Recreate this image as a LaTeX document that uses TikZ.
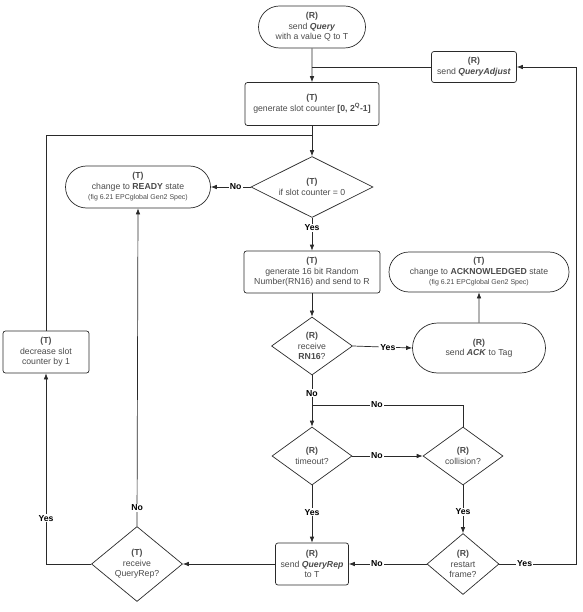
\documentclass[tikz,border=0pt]{standalone}
\usepackage{fontspec}
\setmainfont{Liberation Sans}
\usepackage{tikz}
\usetikzlibrary{arrows.meta,shapes.geometric,shapes.misc}
\tikzset{>={Latex[length=6pt,width=4.6pt]}}
\definecolor{txtgray}{HTML}{4A4A4A}
\definecolor{linegray}{HTML}{2A2A2A}

\begin{document}
\begin{tikzpicture}[x=1pt, y=-1pt, font=\fontsize{8.7}{10.5}\selectfont, align=center, line width=0.7pt, draw=linegray]
    \tikzset{%
      proc/.style={draw, rounded corners=2.5pt, inner sep=1pt, text=txtgray},
      term/.style={draw, rounded rectangle, inner sep=1pt, text=txtgray},
      decis/.style={draw, diamond, inner sep=0pt, aspect=1.4, text=txtgray},
      lbl/.style={fill=white, inner sep=1pt, text=black, font=\fontsize{8.7}{10}\selectfont\bfseries}
      }
    \useasboundingbox (0,0) rectangle (582,612);

    \node [term, minimum width=109, minimum height=42] (Rquery) at (312,27) {\textbf{(R)}\\send \textbf{\textit{Query}}\\with a value Q to T};
    \node [proc, minimum width=134, minimum height=43] (Tgen) at (312,104) {\textbf{(T)}\\generate slot counter \textbf{[0, 2\textsuperscript{Q}-1]}};
    \node [proc, minimum width=85, minimum height=31] (Rqadj) at (474,67) {\textbf{(R)}\\send \textbf{\textit{QueryAdjust}}};

    \node [decis, aspect=2, minimum width=122, minimum height=61] (Tslot) at (312,187) {\textbf{(T)}\\if slot counter = 0};
    \node [term, minimum width=147, minimum height=42] (Tready) at (138,187) {\textbf{(T)}\\change to \textbf{READY} state\\{\fontsize{7}{8.5}\selectfont(fig 6.21 EPCglobal Gen2 Spec)}};

    \node [proc, minimum width=136, minimum height=42] (Tgen16) at (312,272) {\textbf{(T)}\\generate 16 bit Random\\Number(RN16) and send to R};
    \node [term, minimum width=182, minimum height=40] (Tacked) at (479,272) {\textbf{(T)}\\change to \textbf{ACKNOWLEDGED} state\\{\fontsize{7}{8.5}\selectfont(fig 6.21 EPCglobal Gen2 Spec)}};

    \node [decis, minimum width=81, minimum height=58] (Rrn16) at (312,346) {\textbf{(R)}\\receive\\\textbf{RN16}?};
    \node [term, minimum width=135, minimum height=50] (Rack) at (479,348) {\textbf{(R)}\\send \textbf{\textit{ACK}} to Tag};

    \node [decis, minimum width=80, minimum height=58] (Rtime) at (312,456) {\textbf{(R)}\\timeout?};
    \node [decis, minimum width=80, minimum height=58] (Rcoll) at (463,456) {\textbf{(R)}\\collision?};

    \node [proc, minimum width=73, minimum height=42] (Rqrep) at (312,564) {\textbf{(R)}\\send \textbf{\textit{QueryRep}}\\to T};
    \node [decis, minimum width=72, minimum height=61] (Rrestart) at (463,564) {\textbf{(R)}\\restart\\frame?};
    \node [decis, minimum width=91, minimum height=75] (Trcv) at (137,564) {\textbf{(T)}\\receive\\QueryRep?};
    \node [proc, minimum width=86, minimum height=42] (Tdec) at (46,352) {\textbf{(T)}\\decrease slot\\counter by 1};

    \coordinate (Jadj) at (312,67);
    \coordinate (Jloop) at (312,135);
    \coordinate (Jcoll) at (312,405);
    \coordinate (Cbr) at (576,564);

    \draw [->] (Rquery) -- (Tgen);
    \draw (Rqadj.west) -- (Jadj);
    \draw [->] (Tgen) -- (Tslot);
    \draw (Tdec.north) |- (Jloop);
    \draw [->] (Tslot.west) -- node [lbl, pos=0.375] {No} (Tready.east);
    \draw [->] (Tslot) -- node [lbl, pos=0.3] {Yes} (Tgen16);
    \draw [->] (Tgen16) -- (Rrn16);
    \draw [->] (Rrn16.east) -- node [lbl, pos=0.59] {Yes} (Rack.west);
    \draw [->] (Rack) -- (Tacked);
    \draw [->] (Rrn16) -- node [lbl, pos=0.35] {No} (Rtime);
    \draw (Rcoll.north) |- node [lbl, pos=0.785] {No} (Jcoll);
    \draw [->] (Rtime.east) -- node [lbl, pos=0.35] {No} (Rcoll.west);
    \draw [->] (Rtime) -- node [lbl, pos=0.47] {Yes} (Rqrep);
    \draw [->] (Rcoll) -- node [lbl, pos=0.55] {Yes} (Rrestart);
    \draw [->] (Rrestart.west) -- node [lbl, pos=0.64] {No} (Rqrep.east);
    \draw [->] (Rrestart.east) -- node [lbl, pos=0.33] {Yes} (Cbr) |- (Rqadj.east);
    \draw [->] (Rqrep.west) -- (Trcv.east);
    \draw [->] (Trcv.north) -- node [lbl, pos=0.057] {No} (Tready.south);
    \draw [->] (Trcv.west) -| node [lbl, pos=0.62] {Yes} (Tdec.south);

  \end{tikzpicture}
\end{document}
